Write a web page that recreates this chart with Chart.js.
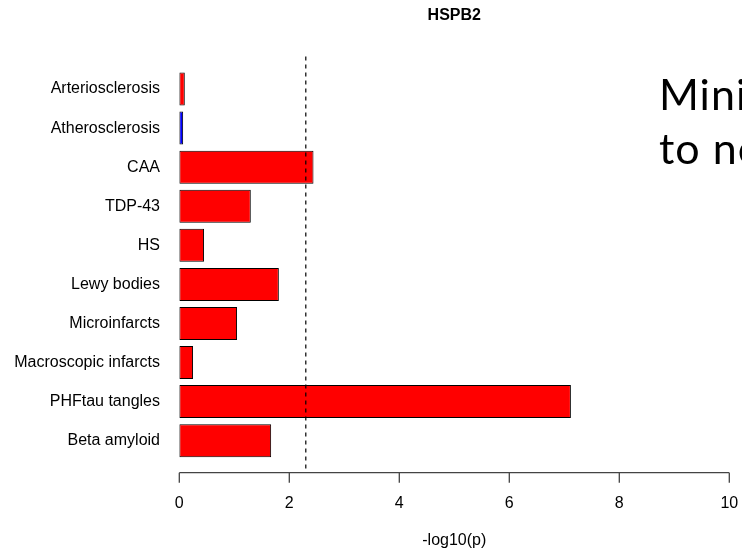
<!DOCTYPE html>
<html lang="en">
<head>
  <meta charset="UTF-8" />
  <title>HSPB2</title>
  <script src="https://cdn.jsdelivr.net/npm/chart.js"></script>
  <style>
    body {
      margin: 0;
      background-color: #fff;
      overflow: hidden;
    }
    .wrap {
      position: relative;
      width: 742px;
      height: 556px;
      overflow: hidden;
    }
    /* slide text that runs off the right edge */
    .slide-text {
      position: absolute;
      left: 659px;
      font-family: Lato, "Open Sans", sans-serif;
      font-size: 43px;
      line-height: 49px;
      letter-spacing: 1px;
      color: #000;
      white-space: nowrap;
    }
  </style>
</head>
<body>
  <div class="wrap">
    <canvas id="myChart" width="742" height="556"></canvas>
    <div class="slide-text" style="top: 69px;">Minimal</div>
    <div class="slide-text" style="top: 123px;">to none</div>
  </div>

  <script>
    const categories = [
      'Arteriosclerosis', 'Atherosclerosis', 'CAA', 'TDP-43', 'HS',
      'Lewy bodies', 'Microinfarcts', 'Macroscopic infarcts', 'PHFtau tangles', 'Beta amyloid'
    ];
    // -log10(p) per trait
    const logP = [0.10, 0.07, 2.44, 1.30, 0.45, 1.81, 1.05, 0.25, 7.12, 1.67];
    // sign of the association: 1 positive (red), -1 negative (blue)
    const direction = [1, -1, 1, 1, 1, 1, 1, 1, 1, 1];
    const xTicks = [0, 2, 4, 6, 8, 10];
    const cutoff = 2.3;

    Chart.defaults.font.family = "'Liberation Sans', Arial, sans-serif";
    Chart.defaults.font.size = 16;
    Chart.defaults.color = '#000';

    // dashed significance line and an R-style x axis drawn a little below the bars
    const refLines = {
      id: 'refLines',
      afterDatasetsDraw(chart) {
        const { ctx, chartArea, scales: { x } } = chart;
        const axisY = chartArea.bottom + 12.5;
        const cx = x.getPixelForValue(cutoff);
        ctx.save();
        ctx.strokeStyle = '#000';
        ctx.lineWidth = 1.2;
        ctx.setLineDash([4, 4]);
        ctx.beginPath();
        ctx.moveTo(cx, chartArea.top - 13);
        ctx.lineTo(cx, axisY);
        ctx.stroke();

        ctx.setLineDash([]);
        ctx.strokeStyle = '#444';
        ctx.lineWidth = 1.3;
        ctx.beginPath();
        ctx.moveTo(x.getPixelForValue(xTicks[0]), axisY);
        ctx.lineTo(x.getPixelForValue(xTicks[xTicks.length - 1]), axisY);
        xTicks.forEach(v => {
          const px = x.getPixelForValue(v);
          ctx.moveTo(px, axisY);
          ctx.lineTo(px, axisY + 10);
        });
        ctx.stroke();
        ctx.restore();
      }
    };

    const ctx = document.getElementById('myChart').getContext('2d');
    const myChart = new Chart(ctx, {
      type: 'bar',
      data: {
        labels: categories,
        datasets: [{
          data: logP,
          backgroundColor: direction.map(d => d > 0 ? '#ff0000' : '#0000ff'),
          borderColor: '#000',
          borderWidth: 1,
          borderSkipped: false,
          barPercentage: 0.845,
          categoryPercentage: 1
        }]
      },
      options: {
        indexAxis: 'y',
        responsive: false,
        animation: false,
        layout: { padding: { left: 0, right: 12.7, top: 0, bottom: 0 } },
        plugins: {
          legend: { display: false },
          tooltip: { enabled: false },
          title: {
            display: true,
            text: 'HSPB2',
            fullSize: false,
            color: '#000',
            font: { size: 16, weight: 'bold' },
            padding: { top: 6.4, bottom: 43.9 }
          }
        },
        scales: {
          x: {
            min: 0,
            max: 10,
            afterBuildTicks: scale => { scale.ticks = xTicks.map(v => ({ value: v })); },
            // tick marks are drawn by refLines; tickLength only pushes the labels down
            grid: { display: false, drawTicks: true, tickLength: 33.7 },
            border: { display: false },
            ticks: { padding: 0, maxRotation: 0, autoSkip: false },
            title: {
              display: true,
              text: '-log10(p)',
              font: { size: 16 },
              padding: { top: 0, bottom: 5.4 }
            },
            afterFit: scale => { scale.height = 95.8; }
          },
          y: {
            grid: { display: false, drawTicks: false },
            border: { display: false },
            ticks: { padding: 19.3, autoSkip: false },
            afterFit: scale => { scale.width = 179.3; }
          }
        }
      },
      plugins: [refLines]
    });
  </script>
</body>
</html>
